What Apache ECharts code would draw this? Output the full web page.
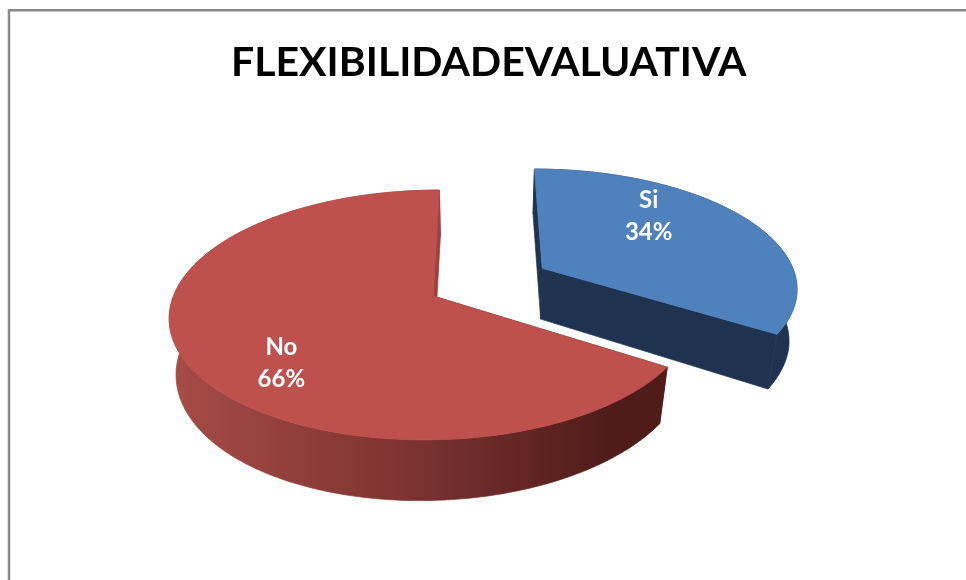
<!DOCTYPE html>
<html>
<head>
<meta charset="utf-8">
<style>html,body{margin:0;padding:0;background:#fff}#c{width:966px;height:580px}</style>
<script src="https://cdn.jsdelivr.net/npm/echarts@6/dist/echarts.min.js"></script>
</head>
<body>
<div id="c"></div>
<script>
// --- data ---
const titleText = 'FLEXIBILIDADEVALUATIVA';
const categories = ['Si', 'No'];
const values = [34, 66];

// --- styles ---
const faceColors = ['#4F81BD', '#BE504D'];
const startWallColors = ['#1F3350', '#4F1C19'];
const endWallColors = ['#1F3350', '#9E413E'];
const wallStops = [
  [{offset: 0, color: '#1F3350'}, {offset: 1, color: '#1F3350'}],
  [{offset: 0, color: '#A64B45'}, {offset: 0.5, color: '#7A322F'}, {offset: 0.9, color: '#4F1C19'}, {offset: 1, color: '#4F1C19'}]
];
// explode distance (in pie radii), label position inside each slice
const explode = [0.49, 0];
const labelAlong = [0.36, 0.436];
const labelRadius = [0.68, 0.73];

// --- view: perspective projection of the unit-circle pie ---
const view = {x0: 433, y0: 296, A: 259.5, k: 122, c: 0.152, shear: -0.06,
  depthScale: 0.975, depthPivot: 480, depthBase: 52.5, depthSlope: 7, depthFront: 5};

function project(u, v, bottom) {
  const w = 1 - view.c * v;
  const vw = v / w;
  let y = view.y0 + view.k * vw;
  let x = view.x0 + view.A * u / w + view.shear * (y - view.y0);
  if (bottom) {
    x = view.depthPivot + (x - view.depthPivot) * view.depthScale - view.depthFront * Math.max(0, vw);
    y = y + view.depthBase + view.depthSlope * vw;
  }
  return [x, y];
}

const total = values.reduce((a, b) => a + b, 0);

function renderSlice(params, api) {
  const i = params.dataIndex;
  const val = api.value(0);
  let before = 0;
  for (let j = 0; j < i; j++) before += values[j];
  const a0 = before / total * Math.PI * 2;
  const a1 = (before + val) / total * Math.PI * 2;
  const mid = (a0 + a1) / 2;
  const cu = explode[i] * Math.sin(mid);
  const cv = -explode[i] * Math.cos(mid);
  const at = (a, r) => [cu + r * Math.sin(a), cv - r * Math.cos(a)];

  const steps = Math.max(24, Math.round((a1 - a0) * 40));
  const topArc = [], botArc = [];
  for (let s = 0; s <= steps; s++) {
    const a = a0 + (a1 - a0) * s / steps;
    const p = at(a, 1);
    topArc.push(project(p[0], p[1], false));
    botArc.push(project(p[0], p[1], true));
  }
  const apexT = project(cu, cv, false);
  const apexB = project(cu, cv, true);
  const wallFill = new echarts.graphic.LinearGradient(180, 0, 660, 0, wallStops[i], true);

  const children = [];
  // start cut wall, outer wall, end cut wall
  children.push({type: 'polygon', silent: true,
    shape: {points: [apexT, topArc[0], botArc[0], apexB]},
    style: {fill: startWallColors[i], stroke: startWallColors[i], lineWidth: 0.7}});
  children.push({type: 'polygon', silent: true,
    shape: {points: topArc.concat(botArc.slice().reverse())},
    style: {fill: wallFill, stroke: wallFill, lineWidth: 0.7}});
  children.push({type: 'polygon', silent: true,
    shape: {points: [apexT, topArc[steps], botArc[steps], apexB]},
    style: {fill: endWallColors[i], stroke: endWallColors[i], lineWidth: 0.7}});
  // top face
  children.push({type: 'polygon', silent: true,
    shape: {points: [apexT].concat(topArc)},
    style: {fill: faceColors[i], stroke: faceColors[i], lineWidth: 0.8}});
  // label
  const la = a0 + (a1 - a0) * labelAlong[i];
  const lp = at(la, labelRadius[i]);
  const lxy = project(lp[0], lp[1], false);
  children.push({type: 'text', silent: true, z2: 10,
    style: {
      text: categories[i] + '\n' + Math.round(val / total * 100) + '%',
      x: lxy[0], y: lxy[1], fill: '#ffffff', align: 'center', verticalAlign: 'middle',
      font: 'bold 24px Lato', lineHeight: 32
    }});
  return {type: 'group', children};
}

const chart = echarts.init(document.getElementById('c'), null, {renderer: 'canvas'});
chart.setOption({
  animation: false,
  backgroundColor: '#ffffff',
  title: {
    text: titleText, left: 226, top: 37,
    textStyle: {fontFamily: 'Lato', fontWeight: 'bold', fontSize: 41, color: '#000000'}
  },
  graphic: [{
    type: 'rect', silent: true, z: -1,
    shape: {x: 9, y: 10.2, width: 1200, height: 900},
    style: {fill: 'none', stroke: '#888888', lineWidth: 2.5}
  }],
  series: [{
    type: 'custom',
    coordinateSystem: 'none',
    renderItem: renderSlice,
    data: values.map((v, i) => ({name: categories[i], value: [v]}))
  }]
});
</script>
</body>
</html>
